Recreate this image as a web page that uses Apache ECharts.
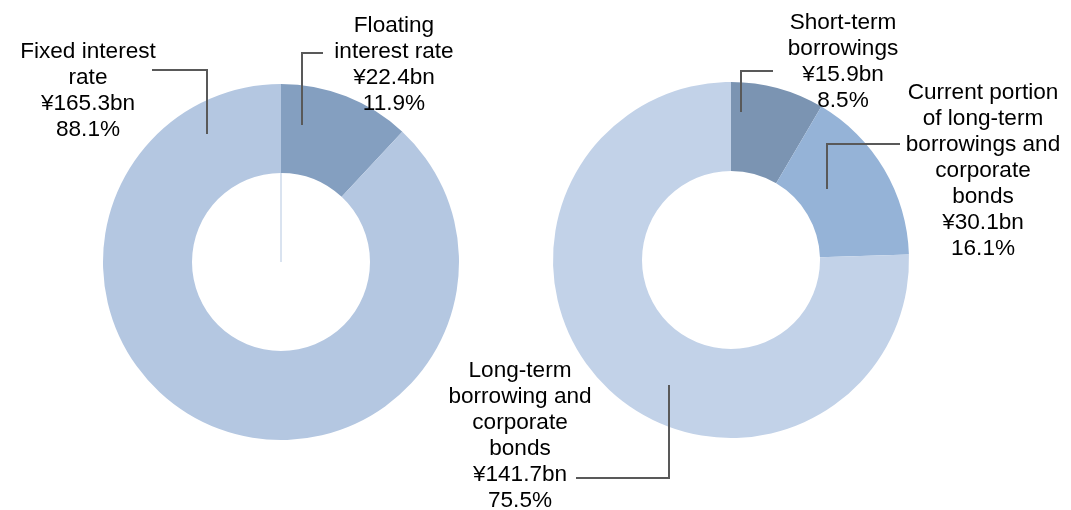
<!DOCTYPE html>
<html>
<head>
<meta charset="utf-8">
<script src="https://cdn.jsdelivr.net/npm/echarts@6/dist/echarts.min.js"></script>
<style>
  html, body { margin: 0; padding: 0; background: #ffffff; }
  #chart { width: 1071px; height: 510px; }
</style>
</head>
<body>
<div id="chart"></div>
<script>
// Interest-rate structure (left ring)
const rateNames = ['Floating\ninterest rate', 'Fixed interest\nrate'];
const rateAmounts = [22.4, 165.3];          // ¥bn
const rateShares = [11.9, 88.1];            // %
const rateColors = ['#849fc0', '#b4c7e1'];

// Debt by type (right ring)
const debtNames = [
  'Short-term\nborrowings',
  'Current portion\nof long-term\nborrowings and\ncorporate\nbonds',
  'Long-term\nborrowing and\ncorporate\nbonds'
];
const debtAmounts = [15.9, 30.1, 141.7];    // ¥bn
const debtShares = [8.5, 16.1, 75.5];       // %
const debtColors = ['#7b94b2', '#95b3d7', '#c2d2e8'];

// Ring geometry
const leftCenter = [281, 262];
const rightCenter = [731, 260];
const ringRadius = [89, 178];

// Callout boxes: label centre and leader-line path for each slice
const rateCallouts = [
  { x: 394, y: 65, line: [[323, 53], [302, 53], [302, 125]] },
  { x: 88, y: 91, line: [[152, 70], [207, 70], [207, 134]] }
];
const debtCallouts = [
  { x: 843, y: 62, line: [[773, 71], [741, 71], [741, 112]] },
  { x: 983, y: 171, line: [[900, 144], [827, 144], [827, 189]] },
  { x: 520, y: 436, line: [[576, 478], [669, 478], [669, 385]] }
];

const LEADER_COLOR = '#595959';

function buildData(names, amounts, shares, colors) {
  return names.map((n, i) => ({
    name: n,
    value: amounts[i],
    share: shares[i],
    itemStyle: { color: colors[i] }
  }));
}

function ring(center, data, callouts) {
  return {
    type: 'pie',
    center: center,
    radius: ringRadius,
    startAngle: 90,
    clockwise: true,
    avoidLabelOverlap: false,
    silent: true,
    itemStyle: { borderWidth: 0 },
    emphasis: { disabled: true },
    data: data,
    label: {
      show: true,
      position: 'outside',
      overflow: 'none',
      fontFamily: '"Liberation Sans", Arial, sans-serif',
      fontSize: 22.6,
      lineHeight: 26,
      color: '#000000',
      align: 'center',
      formatter: p => p.name + '\n¥' + p.value.toFixed(1) + 'bn\n' + p.data.share.toFixed(1) + '%'
    },
    labelLine: { show: false },
    labelLayout: p => {
      const c = callouts[p.dataIndex];
      return { x: c.x, y: c.y, align: 'center', verticalAlign: 'middle' };
    }
  };
}

// Leader lines sit above the ring sectors
function leaders(callouts) {
  return callouts.map(c => ({
    type: 'polyline',
    silent: true,
    z: 100,
    shape: { points: c.line },
    style: { stroke: LEADER_COLOR, lineWidth: 2, fill: null }
  }));
}

const chart = echarts.init(document.getElementById('chart'), null, { renderer: 'canvas' });
chart.setOption({
  animation: false,
  backgroundColor: '#ffffff',
  series: [
    ring(leftCenter, buildData(rateNames, rateAmounts, rateShares, rateColors), rateCallouts),
    ring(rightCenter, buildData(debtNames, debtAmounts, debtShares, debtColors), debtCallouts)
  ],
  graphic: [
    {
      // thin seam left by the ring's start edge inside the hole
      type: 'line',
      silent: true,
      shape: {
        x1: leftCenter[0], y1: leftCenter[1],
        x2: leftCenter[0], y2: leftCenter[1] - ringRadius[0]
      },
      style: { stroke: '#b4c7e1', lineWidth: 1 }
    },
    ...leaders(rateCallouts),
    ...leaders(debtCallouts)
  ]
});
</script>
</body>
</html>
